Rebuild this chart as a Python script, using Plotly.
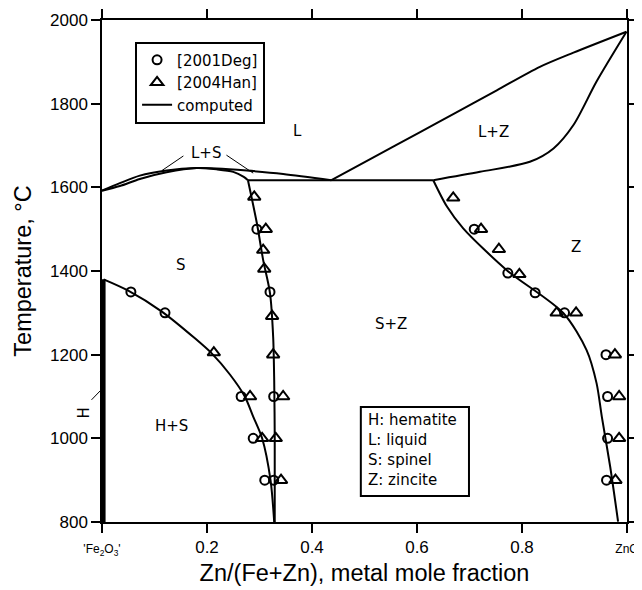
import plotly.graph_objects as go

# ---------------- data ----------------
# computed phase boundaries (x = Zn/(Fe+Zn), T in °C)
hem_x = [0.003, 0.003]
hem_T = [800, 1380]

hs_x = [0.003, 0.05, 0.114, 0.177, 0.209, 0.244, 0.272, 0.288, 0.305, 0.321, 0.328]
hs_T = [1380, 1353, 1303, 1239, 1203, 1152, 1100, 1052, 1000, 900, 800]

sz_x = [0.278, 0.295, 0.307, 0.320, 0.326, 0.328, 0.329, 0.329]
sz_T = [1617, 1514, 1426, 1347, 1243, 1139, 1000, 800]

liq_x = [0.0, 0.034, 0.072, 0.123, 0.18, 0.218, 0.276, 0.345, 0.437]
liq_T = [1592, 1610, 1628, 1640, 1646, 1645, 1640, 1632, 1617]

sol_x = [0.0, 0.034, 0.072, 0.123, 0.18, 0.218, 0.25, 0.27, 0.278]
sol_T = [1592, 1603, 1620, 1636, 1646, 1643, 1637, 1625, 1617]

eut_x = [0.278, 0.631]
eut_T = [1617, 1617]

zl_x = [0.437, 0.51, 0.606, 0.669, 0.752, 0.834, 0.898, 0.999]
zl_T = [1617, 1667, 1732, 1775, 1832, 1888, 1922, 1972]

zs_x = [0.631, 0.72, 0.815, 0.86, 0.898, 0.942, 0.999]
zs_T = [1617, 1637, 1661, 1693, 1749, 1853, 1972]

zb_x = [0.631, 0.657, 0.688, 0.771, 0.879, 0.923, 0.942, 0.952, 0.968, 0.983]
zb_T = [1617, 1554, 1502, 1402, 1299, 1211, 1132, 1052, 932, 801]

# experimental points
deg_x = [0.055, 0.12, 0.265, 0.288, 0.31, 0.327, 0.295, 0.32, 0.327,
         0.709, 0.773, 0.825, 0.881, 0.96, 0.963, 0.963, 0.961]
deg_T = [1350, 1300, 1100, 1000, 900, 900, 1500, 1350, 1100,
         1500, 1395, 1348, 1300, 1200, 1100, 1000, 900]

han_x = [0.29, 0.312, 0.307, 0.309, 0.324, 0.326, 0.213, 0.282, 0.345, 0.305, 0.331, 0.341,
         0.669, 0.722, 0.756, 0.795, 0.866, 0.903, 0.977, 0.985, 0.985, 0.978]
han_T = [1577, 1500, 1450, 1405, 1292, 1200, 1205, 1100, 1100, 1000, 1000, 900,
         1575, 1500, 1452, 1392, 1300, 1300, 1200, 1100, 1000, 900]

x_tickvals = [0, 0.2, 0.4, 0.6, 0.8, 1.0]
x_ticktext = ["<span style='font-size:12px'>'Fe<sub>2</sub>O<sub>3</sub>'</span>",
              "0.2", "0.4", "0.6", "0.8",
              "<span style='font-size:12px'>ZnO</span>"]
y_tickvals = [800, 1000, 1200, 1400, 1600, 1800, 2000]

region_labels = ["L", "L+S", "L+Z", "S", "H+S", "S+Z", "Z"]
region_x = [0.372, 0.199, 0.745, 0.15, 0.133, 0.55, 0.903]
region_T = [1735, 1683, 1732, 1414, 1030, 1273, 1457]

key_lines = ["H: hematite", "L: liquid", "S: spinel", "Z: zincite"]
key_T = [1045, 996, 948, 900]

T_MIN, T_MAX = 800, 2000
LABEL_FONT = "DejaVu Sans"
AXIS_FONT = "Liberation Sans, Arial, sans-serif"


def ty(t):
    """temperature -> paper y (for items drawn outside the plot area)"""
    return (t - T_MIN) / (T_MAX - T_MIN)


fig = go.Figure()

fig.add_trace(go.Scatter(x=deg_x, y=deg_T, mode="markers", name="[2001Deg]",
                         marker=dict(symbol="circle-open", size=9, color="black",
                                     line=dict(width=2, color="black"))))
fig.add_trace(go.Scatter(x=han_x, y=han_T, mode="markers", name="[2004Han]",
                         marker=dict(symbol="triangle-up-open", size=11, color="black",
                                     line=dict(width=2, color="black"))))

curves = [(hs_x, hs_T), (sz_x, sz_T), (liq_x, liq_T), (sol_x, sol_T),
          (eut_x, eut_T), (zl_x, zl_T), (zs_x, zs_T), (zb_x, zb_T)]
for i, (cx, cy) in enumerate(curves):
    fig.add_trace(go.Scatter(x=cx, y=cy, mode="lines", name="computed",
                             showlegend=(i == 0),
                             line=dict(color="black", width=2, shape="spline", smoothing=0.8)))
fig.add_trace(go.Scatter(x=hem_x, y=hem_T, mode="lines", showlegend=False,
                         line=dict(color="black", width=4)))

# region labels
for t, xx, yy in zip(region_labels, region_x, region_T):
    fig.add_annotation(x=xx, y=yy, text=t, showarrow=False,
                       font=dict(family=LABEL_FONT, size=15, color="black"))
# hematite label sits just outside the left axis
fig.add_annotation(xref="paper", yref="paper", x=-0.013, y=ty(1060), text="H",
                   xanchor="right", yanchor="middle",
                   showarrow=False, textangle=-90,
                   font=dict(family=LABEL_FONT, size=15, color="black"))
fig.add_shape(type="line", xref="paper", yref="paper",
              x0=-0.02, y0=ty(1092), x1=0.0, y1=ty(1118),
              line=dict(color="black", width=1))

# leader lines for L+S
for (x0, y0, x1, y1) in [(0.155, 1675, 0.114, 1640), (0.237, 1677, 0.288, 1634)]:
    fig.add_shape(type="line", x0=x0, y0=y0, x1=x1, y1=y1,
                  line=dict(color="black", width=1))

# phase key box
fig.add_shape(type="rect", x0=0.493, x1=0.699, y0=862, y1=1075,
              line=dict(color="black", width=2), fillcolor="white", layer="below")
for t, yy in zip(key_lines, key_T):
    fig.add_annotation(x=0.503, y=yy, text=t, showarrow=False, xanchor="left",
                       font=dict(family=LABEL_FONT, size=15, color="black"))

axis_common = dict(showline=True, linecolor="black", linewidth=1.5, mirror="ticks",
                   ticks="outside", ticklen=9, tickwidth=1.5, tickcolor="black",
                   showgrid=False, zeroline=False, automargin=False,
                   tickfont=dict(family=AXIS_FONT, size=17, color="black"))

fig.update_xaxes(range=[0, 1], tickvals=x_tickvals, ticktext=x_ticktext,
                 title=dict(text="Zn/(Fe+Zn), metal mole fraction",
                            font=dict(family=AXIS_FONT, size=23.5, color="black"),
                            standoff=8),
                 **axis_common)
fig.update_yaxes(range=[T_MIN, T_MAX], tickvals=y_tickvals,
                 title=dict(text="Temperature, °C",
                            font=dict(family=AXIS_FONT, size=23.5, color="black"),
                            standoff=12),
                 **axis_common)

# the page body adds an 8px offset, so the figure is sized to fit the window
fig.update_layout(
    width=634, height=582,
    margin=dict(l=94, r=15, t=12, b=68),
    plot_bgcolor="white", paper_bgcolor="white",
    legend=dict(x=0.063, y=0.957, xanchor="left", yanchor="top",
                bordercolor="black", borderwidth=2, bgcolor="white",
                font=dict(family=LABEL_FONT, size=15, color="black"),
                tracegroupgap=0),
)

fig.write_html("out.html")
